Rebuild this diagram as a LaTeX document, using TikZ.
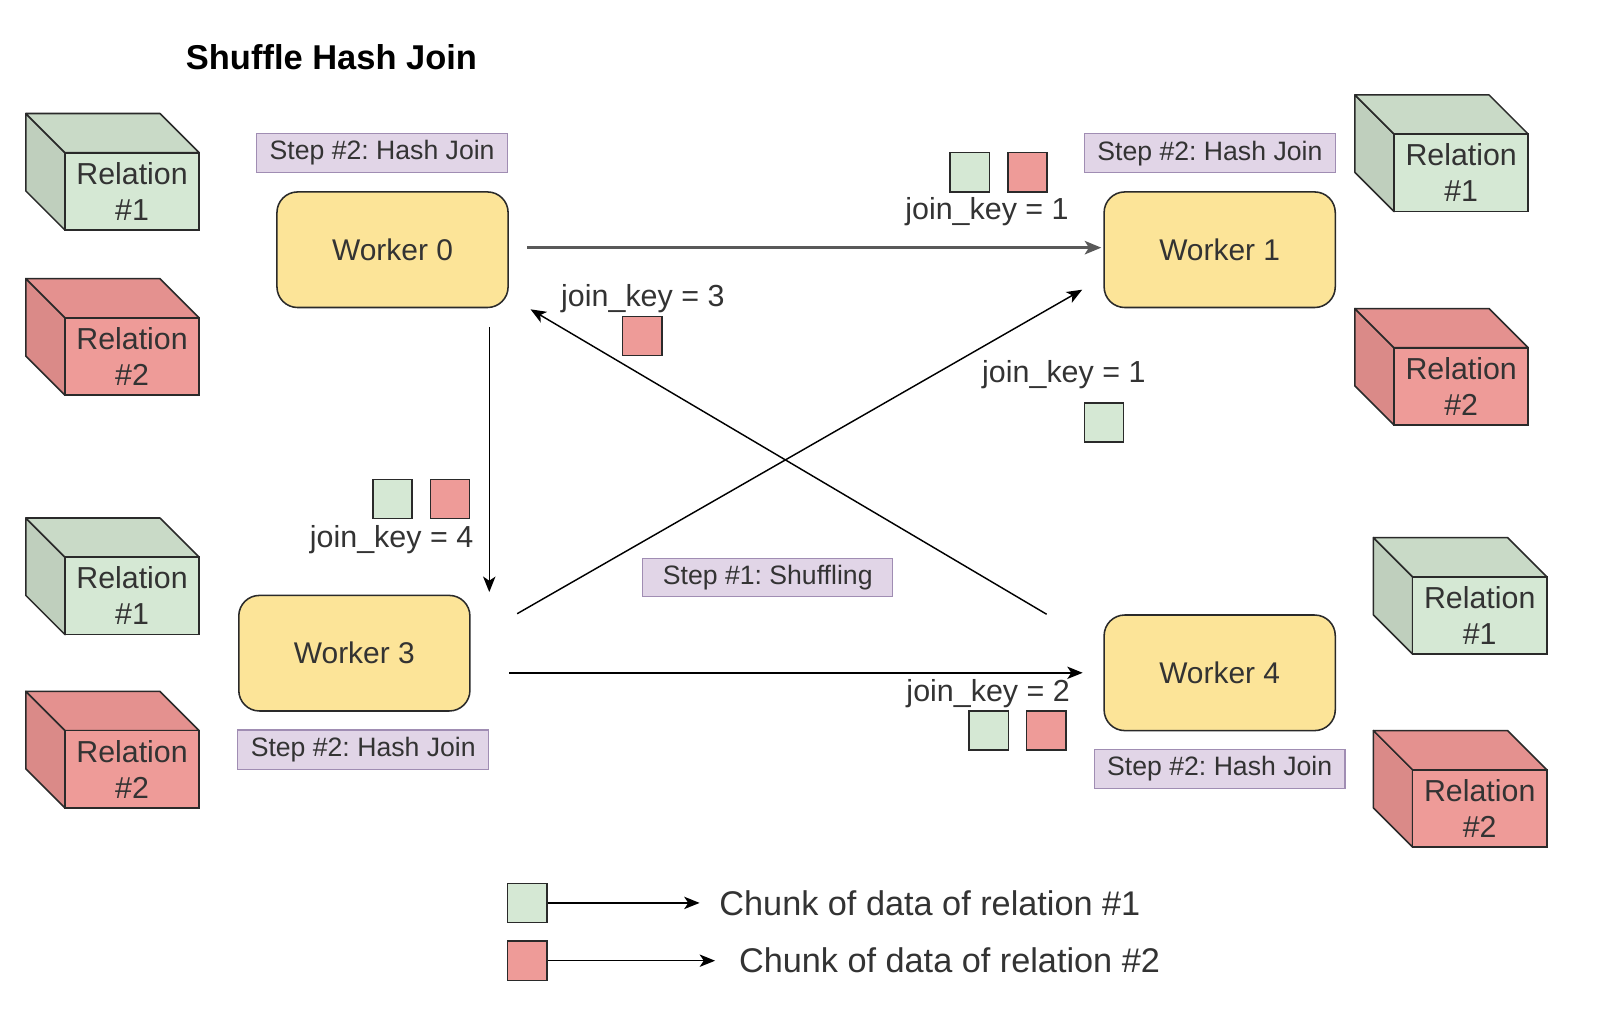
\documentclass[tikz,border=0pt]{standalone}
\usepackage{fontspec}
\setmainfont{Liberation Sans}
\usetikzlibrary{arrows.meta,calc}
\frenchspacing
\definecolor{gfront}{HTML}{D5E8D4}
\definecolor{gtop}{HTML}{C9DAC7}
\definecolor{gside}{HTML}{BFCFBD}
\definecolor{rfront}{HTML}{EE9B98}
\definecolor{rtop}{HTML}{E4918F}
\definecolor{rside}{HTML}{DA8A88}
\definecolor{wfill}{HTML}{FCE498}
\definecolor{sfill}{HTML}{E1D5E7}
\definecolor{sline}{HTML}{A08DB3}
\definecolor{txt}{HTML}{333333}
\definecolor{edge}{HTML}{2A2A2A}
\tikzset{
  cubeline/.style={draw=edge, line width=1.5pt, line join=round},
  cubefront/.style={draw=edge, line width=1.5pt, minimum width=130pt, minimum height=75pt,
    inner sep=0pt, align=center, text=txt, font=\fontsize{29.4}{35}\selectfont},
  worker/.style={draw=edge, fill=wfill, line width=1.5pt, rounded corners=20pt,
    minimum width=224pt, minimum height=112pt, inner sep=0pt, text=txt,
    font=\fontsize{29}{34}\selectfont},
  steplbl/.style={draw=sline, fill=sfill, line width=1.2pt, minimum width=243pt,
    minimum height=38pt, inner sep=0pt, text=txt, font=\fontsize{25.8}{30}\selectfont},
  chunkg/.style={draw=edge, fill=gfront, line width=1.4pt, minimum size=38pt, inner sep=0pt},
  chunkr/.style={draw=edge, fill=rfront, line width=1.4pt, minimum size=38pt, inner sep=0pt},
  keylbl/.style={text=txt, inner sep=0pt, font=\fontsize{29.5}{34}\selectfont},
  legtxt/.style={text=txt, inner sep=0pt, anchor=west, font=\fontsize{33.2}{38}\selectfont},
  arr/.style={-{Stealth[length=15pt,width=12pt,inset=4pt]}, line width=1.4pt, draw=black},
  garr/.style={-{Stealth[length=16pt,width=13pt,inset=4pt]}, line width=2.6pt, draw=black!65},
}
\newcommand{\relcube}[5]{%
  \begin{scope}[shift={(#2,#3)}]
    \filldraw[cubeline, fill=#4side] (0,0) -- (38,38) -- (38,113) -- (0,75) -- cycle;
    \filldraw[cubeline, fill=#4top] (0,0) -- (130,0) -- (168,38) -- (38,38) -- cycle;
    \node[cubefront, fill=#4front] (#1) at (103,75.5) {Relation\\#5};
  \end{scope}}
\begin{document}
\begin{tikzpicture}[x=1pt,y=-1pt]
\useasboundingbox[fill=white] (0,0) rectangle (1568,983.6);

% title
\node[anchor=west, inner sep=0pt, font=\bfseries\fontsize{33.4}{40}\selectfont] (title) at (180,55) {Shuffle Hash Join};

% relation cubes
\relcube{rl1}{25}{110}{g}{\#1}
\relcube{rl2}{25}{270}{r}{\#2}
\relcube{rl3}{25}{502}{g}{\#1}
\relcube{rl4}{25}{670}{r}{\#2}
\relcube{rr1}{1313}{92}{g}{\#1}
\relcube{rr2}{1313}{299}{r}{\#2}
\relcube{rr3}{1331}{521}{g}{\#1}
\relcube{rr4}{1331}{708}{r}{\#2}

% workers
\node[worker] (w0) at (380.4,242) {Worker 0};
\node[worker] (w1) at (1182,242) {Worker 1};
\node[worker] (w3) at (343.4,633) {Worker 3};
\node[worker] (w4) at (1182,652) {Worker 4};

% step labels
\node[steplbl] (s0) at (370.3,148.3) {Step \#2: Hash Join};
\node[steplbl] (s1) at (1172.5,148.5) {Step \#2: Hash Join};
\node[steplbl] (s3) at (352,726.5) {Step \#2: Hash Join};
\node[steplbl] (s4) at (1182,745) {Step \#2: Hash Join};
\node[steplbl, minimum width=242pt, minimum height=37pt] (shuf) at (744,559.5) {Step \#1: Shuffling};

% connectors
\draw[garr, shorten <=18pt, shorten >=2pt] ([yshift=2pt]w0.east) -- ([yshift=2pt]w1.west);
\draw[arr, shorten >=2.5pt] ([xshift=-19pt,yshift=-18pt]w0.south east) -- ([xshift=-19pt]w0.south east |- w3.north);
\draw[arr] ([xshift=-55pt]w4.north west) -- ([xshift=21pt,yshift=-1pt]w0.south east);
\draw[arr] ([xshift=45pt,yshift=-18.5pt]w3.north east) -- ([xshift=-20.5pt,yshift=18pt]w1.south west);
\draw[arr, shorten <=37.5pt, shorten >=20pt] (w3.east |- w4.west) -- (w4.west);

% chunks and keys
\node[chunkg] (c1g) at (939.8,167) {};
\node[chunkr] (c1r) at (995.8,167) {};
\node[keylbl] (k1) at (956.5,205) {join\_key = 1};

\node[keylbl] (k3) at (623,289) {join\_key = 3};
\node[chunkr] (c3r) at (622.5,325.7) {};

\node[keylbl] (k1b) at (1031,363) {join\_key = 1};
\node[chunkg] (c1bg) at (1070,409.4) {};

\node[chunkg] (c4g) at (380.4,483.6) {};
\node[chunkr] (c4r) at (436.2,483.6) {};
\node[keylbl] (k4) at (379.5,523) {join\_key = 4};

\node[keylbl] (k2) at (957.6,671.8) {join\_key = 2};
\node[chunkg] (c2g) at (958.2,708) {};
\node[chunkr] (c2r) at (1014,708) {};

% legend
\node[chunkg] (lg) at (511,875) {};
\node[chunkr] (lr) at (511,931) {};
\node[legtxt] (lgt) at (697,875) {Chunk of data of relation \#1};
\node[legtxt] (lrt) at (716,931) {Chunk of data of relation \#2};
\draw[arr, shorten >=19pt] (lg.east) -- (lgt.west);
\draw[arr, shorten >=23pt] (lr.east) -- (lrt.west);
\end{tikzpicture}
\end{document}
